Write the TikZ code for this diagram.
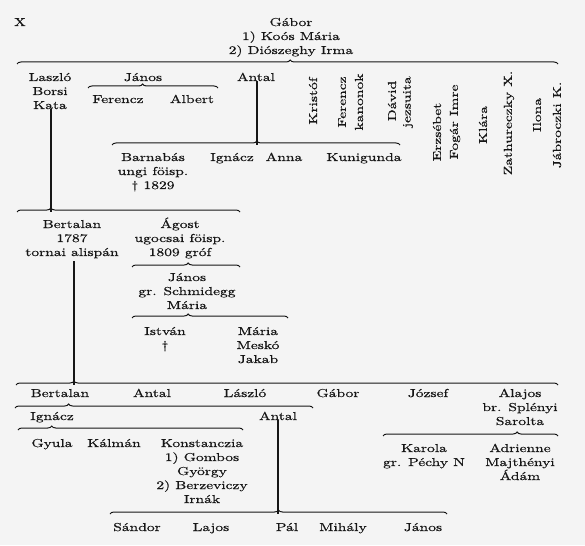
\documentclass[tikz,border=0pt]{standalone}
\usepackage{fontspec}
\setmainfont{lmroman10-regular}[Extension=.otf, FakeStretch=1.35, FakeBold=0.6]
\usetikzlibrary{decorations.pathreplacing}
\definecolor{bg}{RGB}{244,244,244}
\definecolor{ink}{RGB}{22,22,22}
\tikzset{
  t/.style={inner sep=0pt, align=center, anchor=base, text=ink, font=\fontsize{11.5}{14}\selectfont},
  rot/.style={inner sep=0pt, anchor=center, rotate=90, text=ink, font=\fontsize{11.5}{14}\selectfont},
  br/.style={draw=ink, line width=1pt, decorate, decoration={brace, amplitude=4pt, aspect=#1}},
  vl/.style={draw=ink, line width=1.3pt},
}
\begin{document}
\begin{tikzpicture}[x=1pt, y=-1pt]
\fill[bg] (0,0) rectangle (585,545);
\useasboundingbox (0,0) rectangle (585,545);

% (multi-line nodes are placed at the baseline of their last line)
% generation 1
\node[t] (x) at (20,26) {X};
\node[t] (gabor) at (291,54) {Gábor\\1) Koós Mária\\2) Diószeghy Irma};
\coordinate (b1l) at (17,64); \coordinate (b1r) at (558,64);
\draw[br=0.505] (b1l) -- (b1r);

% generation 2
\node[t] (laszlo) at (50,109) {Laszló\\Borsi\\Kata};
\node[t] (janos) at (143,81) {János};
\node[t] (antal) at (256,81) {Antal};
\node[rot] (kristof) at (313,101) {Kristóf};
\node[rot] (ferencz1) at (342,102) {Ferencz};
\node[rot] (ferencz2) at (359,102) {kanonok};
\node[rot] (david1) at (392,101) {Dávid};
\node[rot] (david2) at (408,102) {jezsuita};
\node[rot] (erzs1) at (437,132) {Erzsébet};
\node[rot] (erzs2) at (455,122) {Fogár Imre};
\node[rot] (klara1) at (483,125) {Klára};
\node[rot] (klara2) at (509,123) {Zathureczky X.};
\node[rot] (ilona1) at (537,115) {Ilona};
\node[rot] (ilona2) at (557,125) {Jábroczki K.};

% János children
\coordinate (b2l) at (88,88); \coordinate (b2r) at (218,88);
\draw[br=0.42] (b2l) -- (b2r);
\node[t] (ferencz) at (118,103) {Ferencz};
\node[t] (albert) at (192,103) {Albert};

% Antal children
\coordinate (b3l) at (112,145); \coordinate (b3r) at (400,145);
\coordinate (b3t) at (257,145);
\draw[vl] (antal.south -| b3t) -- (b3t);
\draw[br=0.503] (b3l) -- (b3r);
\node[t] (barnabas) at (153,189) {Barnabás\\ungi föisp.\\† 1829};
\node[t] (ignacz1) at (232,161) {Ignácz};
\node[t] (anna) at (284,161) {Anna};
\node[t] (kunig) at (364,161) {Kunigunda};

% Laszló children
\coordinate (b4l) at (17,212); \coordinate (b4r) at (240,212);
\coordinate (b4t) at (51,212);
\draw[vl] (laszlo.south -| b4t) -- (b4t);
\draw[br=0.152] (b4l) -- (b4r);
\node[t] (bertalan1) at (72,256) {Bertalan\\1787\\tornai alispán};
\node[t] (agost) at (180,256) {Ágost\\ugocsai föisp.\\1809 gróf};

% Ágost children
\coordinate (b5l) at (132,267); \coordinate (b5r) at (240,267);
\draw[br=0.52] (b5l) -- (b5r);
\node[t] (janos2) at (187,309) {János\\gr. Schmidegg\\Mária};

% János (gr.) children
\coordinate (b6l) at (132,318); \coordinate (b6r) at (288,318);
\draw[br=0.36] (b6l) -- (b6r);
\node[t] (istvan) at (165,349) {István\\†};
\node[t] (maria) at (258,363) {Mária\\Meskó\\Jakab};

% Bertalan children
\coordinate (b7l) at (16,385); \coordinate (b7r) at (558,385);
\coordinate (b7t) at (74,385);
\draw[vl, shorten <=3pt] (bertalan1.south -| b7t) -- (b7t);
\draw[br=0.107] (b7l) -- (b7r);
\node[t] (bertalan2) at (60,397) {Bertalan};
\node[t] (antal2) at (152,397) {Antal};
\node[t] (laszlo2) at (245,397) {László};
\node[t] (gabor2) at (338,397) {Gábor};
\node[t] (jozsef) at (428,397) {József};
\node[t] (alajos) at (520,425) {Alajos\\br. Splényi\\Sarolta};

% Bertalan (2) children
\coordinate (b8l) at (15,408); \coordinate (b8r) at (313,408);
\draw[br=0.18] (b8l) -- (b8r);
\node[t] (ignacz2) at (52,420) {Ignácz};
\node[t] (antal3) at (278,420) {Antal};

% Ignácz children
\coordinate (b9l) at (18,430); \coordinate (b9r) at (243,430);
\draw[br=0.15] (b9l) -- (b9r);
\node[t] (gyula) at (52,447) {Gyula};
\node[t] (kalman) at (114,447) {Kálmán};
\node[t] (konst) at (202,503) {Konstanczia\\1) Gombos\\György\\2) Berzeviczy\\Irnák};

% Antal (3) children
\coordinate (b10l) at (110,514); \coordinate (b10r) at (447,514);
\coordinate (b10t) at (278,514);
\draw[vl] (antal3.south -| b10t) -- (b10t);
\draw[br=0.5] (b10l) -- (b10r);
\node[t] (sandor) at (137,531) {Sándor};
\node[t] (lajos) at (211,531) {Lajos};
\node[t] (pal) at (287,531) {Pál};
\node[t] (mihaly) at (343,531) {Mihály};
\node[t] (janos3) at (423,531) {János};

% Alajos children
\coordinate (b11l) at (383,436); \coordinate (b11r) at (558,436);
\draw[br=0.766] (b11l) -- (b11r);
\node[t] (karola) at (424,466) {Karola\\gr. Péchy N};
\node[t] (adrienne) at (520,480) {Adrienne\\Majthényi\\Ádám};
\end{tikzpicture}
\end{document}
